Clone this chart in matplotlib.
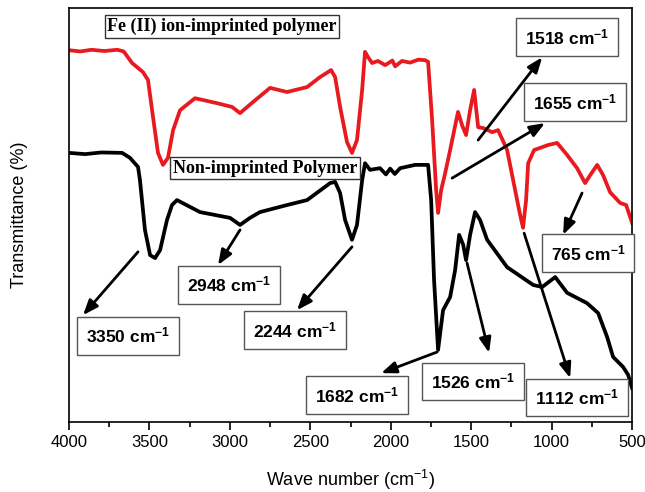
import matplotlib
matplotlib.use("Agg")
import matplotlib.pyplot as plt

plt.rcParams['font.family'] = ['Liberation Sans', 'DejaVu Sans']
plt.rcParams['mathtext.fontset'] = 'custom'
plt.rcParams['mathtext.rm'] = 'Liberation Sans'
plt.rcParams['mathtext.bf'] = 'Liberation Sans:bold'
plt.rcParams['mathtext.it'] = 'Liberation Sans:italic'

# FTIR spectrum of the Fe(II) ion-imprinted polymer
iip_wn = [4000, 3930, 3860, 3780, 3700, 3660, 3608, 3540, 3509, 3478, 3447, 3416,
          3385, 3353, 3310, 3217, 3080, 2987, 2937, 2856, 2750, 2645, 2520, 2440,
          2371, 2346, 2315, 2272, 2241, 2210, 2178, 2160, 2141, 2116, 2080, 2035,
          1990, 1973, 1930, 1880, 1830, 1787, 1768, 1743, 1718,
          1706, 1687, 1662, 1631, 1582, 1557, 1532, 1507, 1482, 1457, 1426, 1370,
          1333, 1277, 1227, 1196, 1178, 1159, 1146, 1109, 1072, 1022, 966, 904,
          842, 792, 761, 717, 680, 637, 574, 537, 500]
iip_t = [89.8, 89.5, 89.9, 89.6, 89.9, 89.5, 86.7, 84.5, 82.6, 73.7, 65.0, 62.1,
         63.8, 70.5, 75.3, 78.2, 77.0, 76.1, 74.6, 77.3, 80.7, 79.7, 80.9, 83.3,
         85.0, 83.3, 76.1, 67.6, 65.0, 68.1, 80.2, 89.4, 88.1, 86.7, 87.2, 86.2,
         87.3, 85.9, 87.2, 86.8, 87.5, 87.4, 87.0, 72.9, 56.0,
         50.5, 56.0, 60.1, 65.7, 74.9, 71.7, 69.3, 75.3, 80.2, 71.2, 71.0, 70.0,
         70.5, 65.7, 56.0, 50.0, 46.9, 53.6, 62.5, 65.7, 66.2, 66.9, 67.4, 64.5,
         61.3, 57.7, 59.6, 62.1, 59.6, 55.5, 52.9, 52.4, 48.1]

# FTIR spectrum of the non-imprinted polymer
nip_wn = [4000, 3900, 3800, 3670, 3621, 3571, 3559, 3528, 3496, 3465, 3434, 3391,
          3360, 3329, 3186, 2999, 2937, 2875, 2813, 2645, 2520, 2377, 2346, 2315,
          2284, 2241, 2210, 2178, 2160, 2129, 2067, 2030, 2004, 1975, 1942, 1849,
          1768, 1749, 1731, 1706, 1675, 1631, 1600, 1575, 1550, 1532, 1507, 1476,
          1445, 1401, 1277, 1115, 1059, 978, 904, 780, 711, 655, 618, 556, 525, 500]
nip_t = [65.0, 64.7, 65.1, 65.0, 63.8, 61.6, 58.4, 46.4, 40.3, 39.6, 41.5, 48.8,
         52.4, 53.6, 50.7, 49.3, 47.6, 49.3, 50.7, 52.4, 53.6, 57.7, 58.0, 55.3,
         48.8, 44.0, 47.6, 58.4, 62.5, 60.9, 61.3, 59.8, 61.2, 59.9, 61.3, 62.1,
         62.1, 53.6, 34.3, 17.4, 27.0, 30.2, 36.7, 45.2, 42.8, 39.1, 45.2, 50.7,
         48.8, 44.0, 37.4, 33.1, 32.6, 35.0, 31.2, 28.7, 26.3, 20.5, 15.7, 13.3,
         11.4, 8.2]

# Band labels (cm-1)
band_labels = ["3350", "2948", "2244", "1518", "1655", "765", "1682", "1526", "1112"]

fig = plt.figure(figsize=(6.45, 4.92), dpi=100)
ax = fig.add_axes([0.107, 0.1423, 0.873, 0.8415])

ax.plot(iip_wn, iip_t, color='#e8191f', lw=2.7, solid_joinstyle='round')
ax.plot(nip_wn, nip_t, color='black', lw=2.7, solid_joinstyle='round')

ax.set_xlim(4000, 500)
ax.set_ylim(0, 100)
ax.set_xticks([4000, 3500, 3000, 2500, 2000, 1500, 1000, 500])
ax.set_xticks([3750, 3250, 2750, 2250, 1750, 1250, 750], minor=True)
ax.set_yticks([])
ax.tick_params(axis='x', which='major', length=6, width=1.2, labelsize=12, direction='out')
ax.tick_params(axis='x', which='minor', length=3.5, width=1.2, direction='out')
for s in ax.spines.values():
    s.set_linewidth(1.2)

ax.set_xlabel("Wave number (cm$^{-1}$)", fontsize=13, labelpad=13)
ax.set_ylabel("Transmittance (%)", fontsize=13)
ax.yaxis.set_label_coords(-0.072, 0.5)

# Sample titles
title_box = dict(boxstyle='square,pad=0.15', fc='white', ec='#333333', lw=1)
ax.text(3049, 95.6, "Fe (II) ion-imprinted polymer", family='Liberation Serif',
        fontweight='bold', fontsize=13, ha='center', va='center', bbox=title_box)
ax.text(2781, 61.3, "Non-imprinted Polymer", family='Liberation Serif',
        fontweight='bold', fontsize=13, ha='center', va='center', bbox=title_box)

# Band assignments: (label centre, arrow tail on the curve, arrow head)
label_pos = [(3633, 20.8), (3005, 33.1), (2595, 22.2), (904, 93.0), (854, 77.3),
             (773, 40.8), (2209, 6.5), (1488, 9.7), (842, 6.0)]
arrow_tail = [(3571, 41.1), (2937, 46.4), (2241, 42.3), (1457, 68.1), (1619, 58.9),
              (811, 55.3), (1712, 16.9), (1526, 38.4), (1171, 45.6)]
arrow_head = [(3913, 25.8), (3074, 37.9), (2583, 27.0), (1059, 88.1), (1041, 72.2),
              (929, 45.2), (2060, 11.8), (1389, 16.7), (885, 10.6)]

band_box = dict(boxstyle='square,pad=0.5', fc='white', ec='#555555', lw=1)
for lab, pos, tail, head in zip(band_labels, label_pos, arrow_tail, arrow_head):
    ax.annotate("", xy=head, xytext=tail,
                arrowprops=dict(arrowstyle='-|>,head_length=0.9,head_width=0.35',
                                color='black', lw=2, shrinkA=0, shrinkB=0))
    ax.text(pos[0], pos[1], lab + r" cm$^{\mathbf{-1}}$", fontsize=12.5, fontweight='bold',
            ha='center', va='center', bbox=band_box, zorder=5)

fig.savefig("out.png", dpi=100)
